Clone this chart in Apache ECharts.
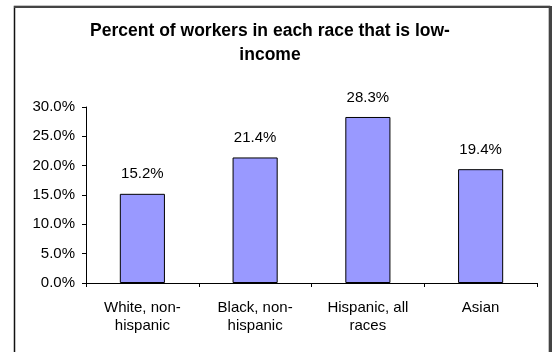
<!DOCTYPE html>
<html>
<head>
<meta charset="utf-8">
<script src="https://cdn.jsdelivr.net/npm/echarts@6/dist/echarts.min.js"></script>
<style>
  html, body { margin: 0; padding: 0; background: #fff; }
  #chart { width: 556px; height: 352px; }
</style>
</head>
<body>
<div id="chart"></div>
<script>
// 数据
var categories = ['White, non-\nhispanic', 'Black, non-\nhispanic', 'Hispanic, all\nraces', 'Asian'];
var lowIncomePct = [15.2, 21.4, 28.3, 19.4];
var yTicks = { min: 0, max: 30, step: 5 };

var font = "'Liberation Sans', Arial, sans-serif";

var option = {
    animation: false,
    textStyle: { fontFamily: font },
    title: {
        text: 'Percent of workers in each race that is low-\nincome',
        left: 270,
        top: 19,
        padding: 0,
        textAlign: 'center',
        textStyle: {
            fontFamily: font,
            fontSize: 17.5,
            fontWeight: 'bold',
            color: '#000',
            lineHeight: 24
        }
    },
    grid: {
        left: 86,
        right: 19,
        top: 107,
        bottom: 69
    },
    xAxis: {
        type: 'category',
        data: categories,
        axisLine: { lineStyle: { color: '#000', width: 1 } },
        axisTick: { show: true, length: 4, lineStyle: { color: '#000' } },
        axisLabel: {
            interval: 0,
            margin: 16,
            fontSize: 15,
            lineHeight: 18,
            color: '#000',
            fontFamily: font
        }
    },
    yAxis: {
        type: 'value',
        min: yTicks.min,
        max: yTicks.max,
        interval: yTicks.step,
        splitLine: { show: false },
        axisLine: { show: true, lineStyle: { color: '#000', width: 1 } },
        axisTick: { show: true, length: 4, lineStyle: { color: '#000' } },
        axisLabel: {
            margin: 11,
            fontSize: 15,
            color: '#000',
            fontFamily: font,
            formatter: function (v) { return v.toFixed(1) + '%'; }
        }
    },
    series: [{
        type: 'bar',
        data: lowIncomePct,
        barWidth: '40%',
        itemStyle: {
            color: '#9999FF',
            borderColor: '#000',
            borderWidth: 1
        },
        label: {
            show: true,
            position: 'top',
            distance: 12,
            fontSize: 15,
            color: '#000',
            fontFamily: font,
            formatter: function (p) { return p.value.toFixed(1) + '%'; }
        }
    }],
    graphic: [
        // 外框
        { type: 'rect', shape: { x: 14.5, y: 6.5, width: 535, height: 400 },
          style: { fill: 'none', stroke: '#111', lineWidth: 1.5 }, silent: true },
        { type: 'line', shape: { x1: 14, y1: 7, x2: 551, y2: 7 },
          style: { stroke: '#444', lineWidth: 2 }, silent: true },
        { type: 'line', shape: { x1: 550.5, y1: 6, x2: 550.5, y2: 400 },
          style: { stroke: '#444', lineWidth: 3 }, silent: true }
    ]
};

var myChart = echarts.init(document.getElementById('chart'));
myChart.setOption(option);
</script>
</body>
</html>
